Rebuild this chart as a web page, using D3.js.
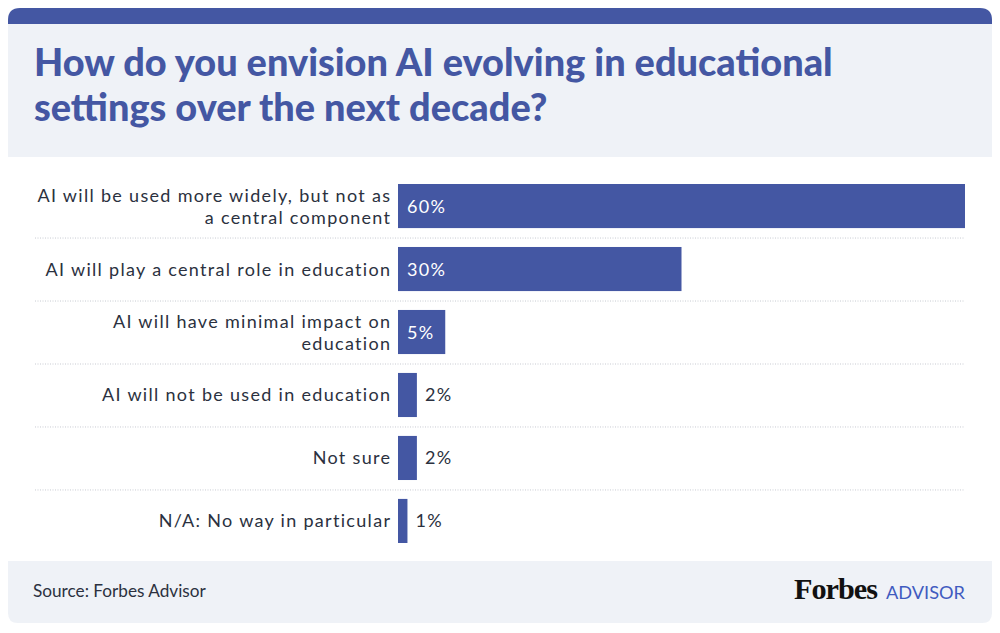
<!DOCTYPE html>
<html><head><meta charset="utf-8">
<script src="https://cdn.jsdelivr.net/npm/d3@7"></script>
<style>
html,body{margin:0;padding:0;background:#fff;}
svg{display:block;}
</style></head>
<body>
<svg id="c" width="1000" height="633"></svg>
<script>
const titleLines = ["How do you envision AI evolving in educational", "settings over the next decade?"];
const categories = [
  ["AI will be used more widely, but not as", "a central component"],
  ["AI will play a central role in education"],
  ["AI will have minimal impact on", "education"],
  ["AI will not be used in education"],
  ["Not sure"],
  ["N/A: No way in particular"]
];
const values = [60, 30, 5, 2, 2, 1];
const source = "Source: Forbes Advisor";

const BLUE = "#4457a3", TEXT = "#2b3140", BG = "#eff2f7";
const svg = d3.select("#c");

// header
svg.append("path").attr("d", roundTop(8, 8, 984, 40, 12)).attr("fill", BLUE);
svg.append("rect").attr("x", 8).attr("y", 24).attr("width", 984).attr("height", 133).attr("fill", BG);
// footer
svg.append("path").attr("d", roundBottom(8, 561, 984, 62, 10)).attr("fill", BG);

function roundTop(x, y, w, h, r) {
  return `M${x},${y+h}V${y+r}Q${x},${y} ${x+r},${y}H${x+w-r}Q${x+w},${y} ${x+w},${y+r}V${y+h}Z`;
}
function roundBottom(x, y, w, h, r) {
  return `M${x},${y}H${x+w}V${y+h-r}Q${x+w},${y+h} ${x+w-r},${y+h}H${x+r}Q${x},${y+h} ${x},${y+h-r}Z`;
}
function fit(sel, target) {
  const n = sel.node(); const fs = parseFloat(sel.attr("font-size"));
  const w = n.getComputedTextLength();
  return fs * target / w;
}

// title
const t0 = svg.append("text").attr("x", 34).attr("y", 76).attr("font-family", "Lato").attr("font-weight", 900)
  .attr("font-size", 34).attr("fill", BLUE).text(titleLines[0]);
const tfs = fit(t0, 799);
t0.attr("font-size", tfs);
svg.append("text").attr("x", 34).attr("y", 121).attr("font-family", "Lato").attr("font-weight", 900)
  .attr("font-size", tfs).attr("fill", BLUE).text(titleLines[1]);

// scales
const x = d3.scaleLinear().domain([0, 60]).range([398, 965]);
const y = d3.scaleBand().domain(d3.range(categories.length)).range([176, 551]).paddingInner(0.3).paddingOuter(0.127);

// label font: 18px with letter spacing matched to the reference width
const LFS = 18;
const probe = svg.append("text").attr("font-family", "Lato").attr("font-size", LFS).text(categories[1][0]);
const pw = probe.node().getComputedTextLength();
const LS = (346 - pw) / categories[1][0].length;
probe.remove();

// separators
svg.append("g").selectAll("line").data(d3.range(1, categories.length)).join("line")
  .attr("x1", 35).attr("x2", 965)
  .attr("y1", i => (y(i - 1) + y.bandwidth() + y(i)) / 2 + 0.5)
  .attr("y2", i => (y(i - 1) + y.bandwidth() + y(i)) / 2 + 0.5)
  .attr("stroke", "#c8cbd2").attr("stroke-width", 1).attr("stroke-dasharray", "1,1.5");

// bars
svg.append("g").selectAll("rect").data(values).join("rect")
  .attr("x", x(0)).attr("y", (d, i) => y(i))
  .attr("width", d => x(d) - x(0)).attr("height", y.bandwidth()).attr("fill", BLUE);

// category labels
const lg = svg.append("g").attr("font-family", "Lato").attr("font-size", LFS).attr("letter-spacing", LS)
  .attr("fill", TEXT).attr("text-anchor", "end");
categories.forEach((lines, i) => {
  const cy = y(i) + y.bandwidth() / 2;
  const lh = 22;
  lines.forEach((s, k) => {
    lg.append("text").attr("x", 390 + LS)
      .attr("y", cy + 6.5 + (k - (lines.length - 1) / 2) * lh)
      .text(s);
  });
});

// value labels
svg.append("g").attr("font-family", "Lato").attr("font-size", LFS).attr("letter-spacing", LS)
  .selectAll("text").data(values).join("text")
  .attr("x", d => d >= 5 ? x(0) + 9 : x(d) + 8)
  .attr("y", (d, i) => y(i) + y.bandwidth() / 2 + 6.5)
  .attr("fill", d => d >= 5 ? "#fff" : TEXT)
  .text(d => d + "%");

// footer text
const src = svg.append("text").attr("x", 33).attr("y", 597).attr("font-family", "Lato").attr("font-size", 16)
  .attr("fill", TEXT).text(source);
src.attr("font-size", fit(src, 173));

svg.append("text").attr("x", 794).attr("y", 599).attr("font-family", "Liberation Serif").attr("font-weight", 700)
  .attr("font-size", 30).attr("fill", "#111").attr("textLength", 83).attr("lengthAdjust", "spacingAndGlyphs")
  .attr("letter-spacing", -1).text("Forbes");
svg.append("text").attr("x", 886).attr("y", 599).attr("font-family", "Lato").attr("font-size", 16.5)
  .attr("fill", "#3f5bc0").attr("textLength", 79).attr("lengthAdjust", "spacingAndGlyphs").text("ADVISOR");
</script>
</body></html>
